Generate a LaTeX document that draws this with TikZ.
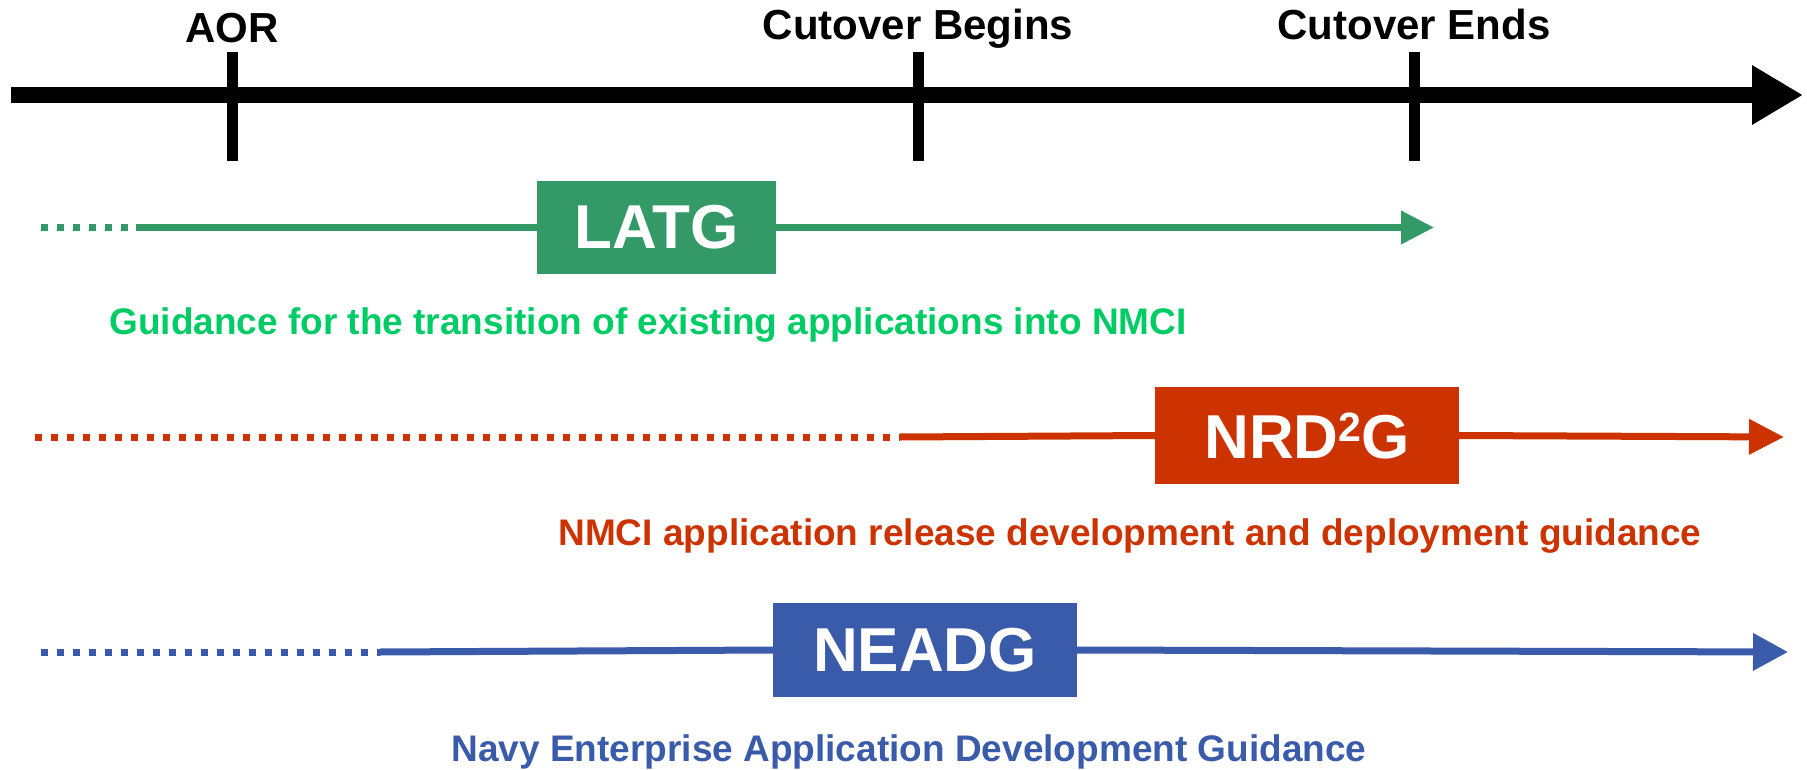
\documentclass[tikz,border=0pt]{standalone}
\usepackage{fontspec}
\setmainfont{Liberation Sans}
\usetikzlibrary{arrows.meta}
\definecolor{gbox}{HTML}{339966}
\definecolor{gtext}{HTML}{00CC66}
\definecolor{rline}{HTML}{CC3300}
\definecolor{bline}{HTML}{3A5BA9}
\tikzset{
  milestone/.style={font=\fontsize{42}{50}\selectfont\bfseries, anchor=base, inner sep=0pt},
  tickmark/.style={line width=11pt},
  guidebox/.style={font=\fontsize{62}{70}\selectfont\bfseries, text=white, inner sep=0pt, anchor=center},
  desc/.style={font=\fontsize{37}{44}\selectfont\bfseries, anchor=base, inner sep=0pt},
  dotline/.style={line width=7pt, dash pattern=on 7pt off 9pt},
  solidline/.style={line width=7pt},
}
\newcommand{\supertwo}{\raisebox{17pt}{\fontsize{41}{44}\selectfont 2}}
\begin{document}
\begin{tikzpicture}[x=1pt,y=-1pt]
\useasboundingbox (0,0) rectangle (1807,770);
% timeline
\coordinate (tl0) at (11,95);
\coordinate (tl1) at (1803,95);
\draw[line width=16pt, -{Triangle[length=51pt,width=56pt]}] (tl0) -- (tl1);
\coordinate (aorT) at (232,52); \coordinate (aorB) at (232,161);
\coordinate (cbT) at (918,52); \coordinate (cbB) at (918,161);
\coordinate (ceT) at (1414,52); \coordinate (ceB) at (1414,161);
\draw[tickmark] (aorT) -- (aorB);
\draw[tickmark] (cbT) -- (cbB);
\draw[tickmark] (ceT) -- (ceB);
\node[milestone] (aor) at (232,43) {AOR};
\node[milestone] (cb) at (918,40) {Cutover Begins};
\node[milestone] (ce) at (1414,40) {Cutover Ends};
% LATG
\node[guidebox, fill=gbox, minimum width=239pt, minimum height=93pt] (latg) at (656.5,227.5) {LATG};
\coordinate (g0) at (41,227.5);
\coordinate (g1) at (188,227.5);
\coordinate (g2) at (136,227.5);
\coordinate (g3) at (1434,227.5);
\draw[dotline, gbox] (g0) -- (g1);
\draw[solidline, gbox] (g2) -- (latg.west);
\draw[solidline, gbox, -{Triangle[length=33pt,width=32pt]}] (latg.east) -- (g3);
\node[desc, text=gtext] (latgd) at (648,334) {Guidance for the transition of existing applications into NMCI};
% NRD2G
\node[guidebox, fill=rline, minimum width=304pt, minimum height=97pt] (nrd) at (1307,435.5) {NRD\supertwo G};
\coordinate (r0) at (35,437);
\coordinate (r1) at (900,437);
\coordinate (r2) at (1784,437);
\draw[dotline, rline] (r0) -- (r1);
\draw[solidline, rline] (r1) -- (nrd.west);
\draw[solidline, rline, -{Triangle[length=35pt,width=34pt]}] (nrd.east) -- (r2);
\node[desc, text=rline] (nrdd) at (1130,545) {NMCI application release development and deployment guidance};
% NEADG
\node[guidebox, fill=bline, minimum width=304pt, minimum height=94pt] (neadg) at (925,650) {NEADG};
\coordinate (b0) at (41,652);
\coordinate (b1) at (380,652);
\coordinate (b2) at (1788,652);
\draw[dotline, bline] (b0) -- (b1);
\draw[solidline, bline] (b1) -- (neadg.west);
\draw[solidline, bline, -{Triangle[length=35pt,width=36pt]}] (neadg.east) -- (b2);
\node[desc, text=bline] (neadgd) at (909,761) {Navy Enterprise Application Development Guidance};
\end{tikzpicture}
\end{document}
